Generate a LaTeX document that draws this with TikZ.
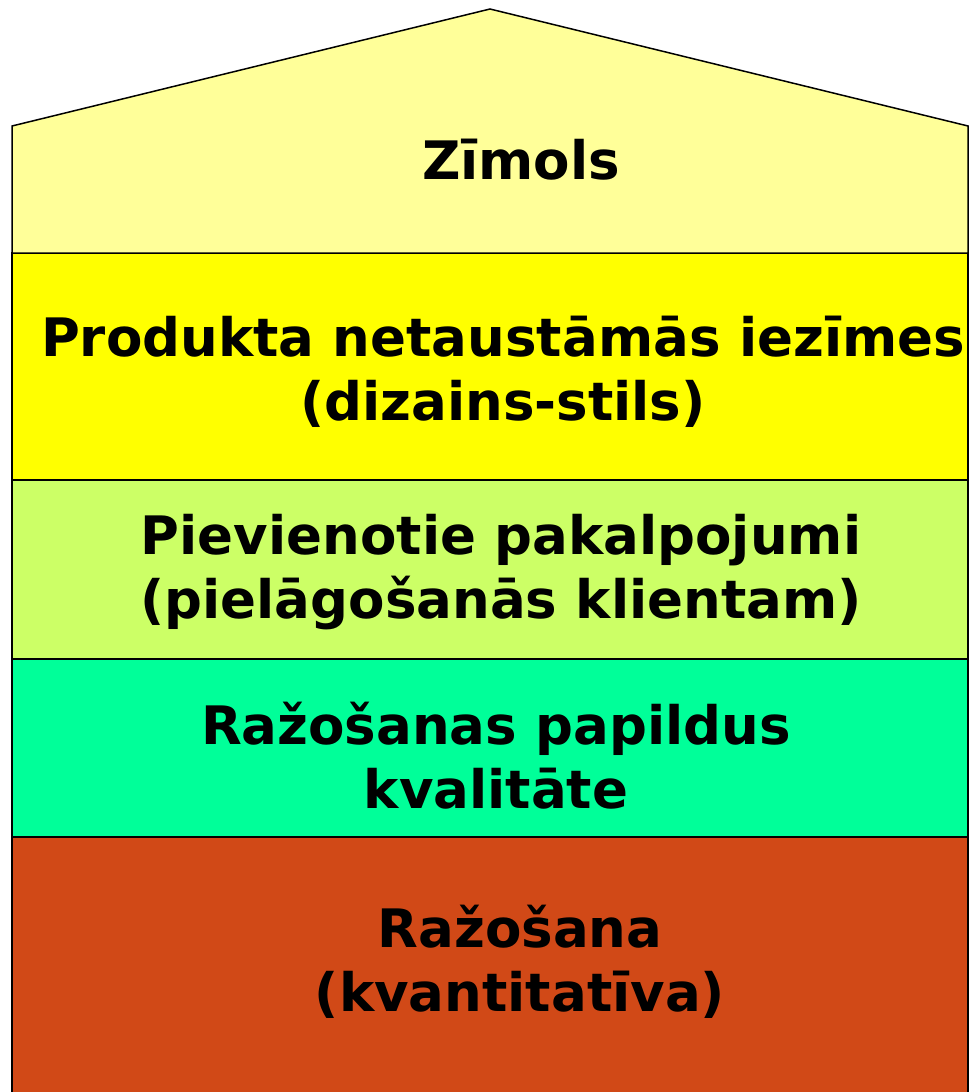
\documentclass[tikz,border=0pt]{standalone}
\usepackage{fontspec}
\setmainfont{DejaVu Sans}
\definecolor{roofc}{HTML}{FFFF99}
\definecolor{layerb}{HTML}{FFFF00}
\definecolor{layerc}{HTML}{CCFF66}
\definecolor{layerd}{HTML}{00FF99}
\definecolor{layere}{HTML}{D14917}
\tikzset{
  layer/.style={draw=black, line width=1.5pt, line join=miter},
  label/.style={font=\bfseries\fontsize{53}{64}\selectfont, align=center, text=black, inner sep=0pt}
}
\begin{document}
\begin{tikzpicture}[x=1pt,y=-1pt]
\useasboundingbox (0,0) rectangle (970,1092);
% bottom layer (open at bottom)
\fill[layere] (12,837) rectangle (968,1095);
\draw[layer] (12,1095) -- (12,837) -- (968,837) -- (968,1095);
% layer 4
\filldraw[layer, fill=layerd] (12,659) rectangle (968,837);
% layer 3
\filldraw[layer, fill=layerc] (12,480) rectangle (968,659);
% layer 2
\filldraw[layer, fill=layerb] (12,253) rectangle (968,480);
% roof
\filldraw[layer, fill=roofc] (12,253) -- (12,126) -- (490,9) -- (968,126) -- (968,253) -- cycle;
% labels
\node[label] (zimols) at (521,160) {Zīmols};
\node[label] (produkta) at (503,372) {Produkta netaustāmās iezīmes\\(dizains-stils)};
\node[label] (pakalpojumi) at (501,572) {Pievienotie pakalpojumi\\(pielāgošanās klientam)};
\node[label] (kvalitate) at (496,756) {Ražošanas papildus\\kvalitāte};
\node[label] (razosana) at (520,962) {Ražošana\\(kvantitatīva)};
\end{tikzpicture}
\end{document}
